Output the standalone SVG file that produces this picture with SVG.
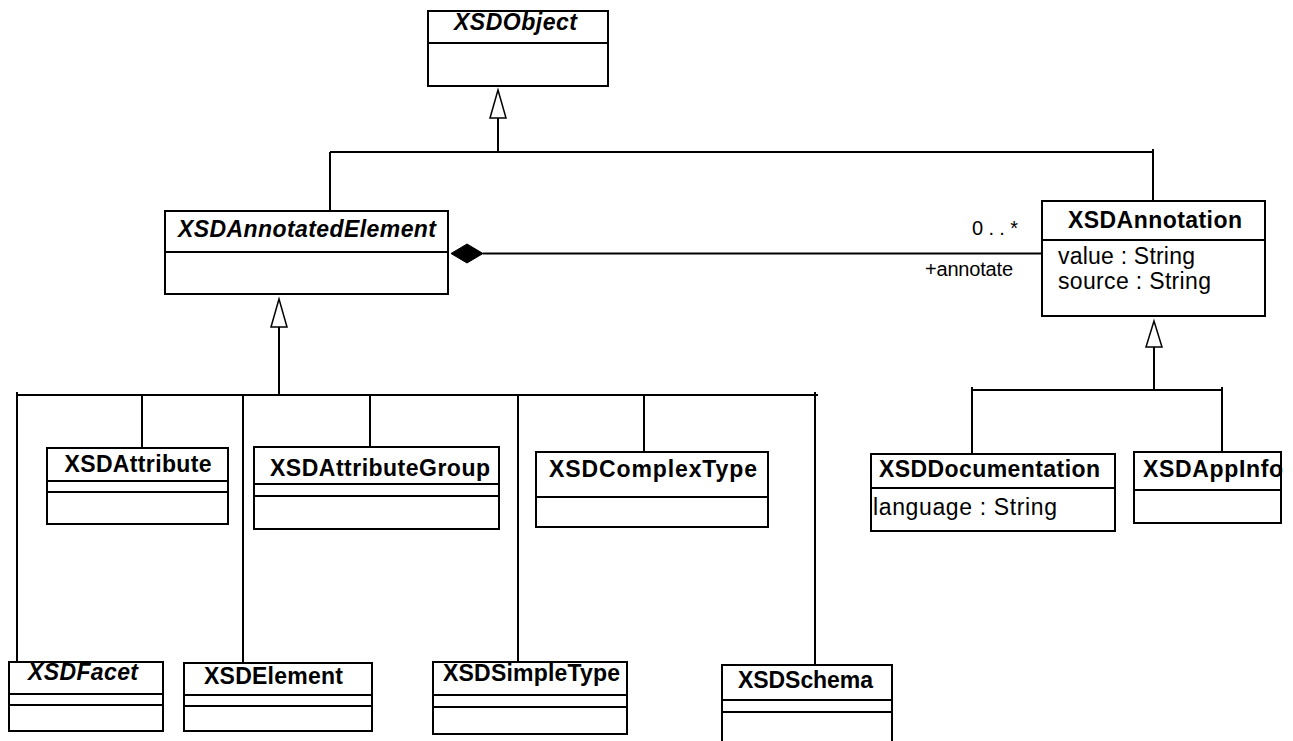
<svg xmlns="http://www.w3.org/2000/svg" width="1293" height="741" viewBox="0 0 1293 741">
<style>
.box{fill:#fff;stroke:#000;stroke-width:2}
.ln{fill:none;stroke:#000;stroke-width:2}
.t{font-family:"Liberation Sans",Arial,sans-serif;font-size:23px;font-weight:bold;fill:#000}
.ti{font-family:"Liberation Sans",Arial,sans-serif;font-size:23px;font-weight:bold;font-style:italic;fill:#000}
.a{font-family:"Liberation Sans",Arial,sans-serif;font-size:23px;fill:#000}
.s{font-family:"Liberation Sans",Arial,sans-serif;font-size:20px;fill:#000}
.tri{fill:#fff;stroke:#000;stroke-width:1.5}
</style>
<rect width="1293" height="741" fill="#fff"/>
<g id="connectors">
  <polygon class="tri" points="498,90 490,118 506,118"/>
  <path class="ln" d="M498,118 V152 M330,152 H1153 M330,152 V211 M1153,149 V201"/>
  <path class="ln" d="M483,253.5 H1042"/>
  <polygon points="451,253.5 467,244 483,253.5 467,263" fill="#000" stroke="#000" stroke-width="1"/>
  <text class="s" x="972" y="235" textLength="46" lengthAdjust="spacing">0 . . *</text>
  <text class="s" x="925" y="276" textLength="88" lengthAdjust="spacing">+annotate</text>
  <polygon class="tri" points="279,299 271,327 287,327"/>
  <path class="ln" d="M279,327 V395 M17,395 H818 M17,392 V662 M142,395 V448 M243,395 V663 M370,395 V447 M518,395 V662 M644,395 V452 M815,392 V665"/>
  <polygon class="tri" points="1154,321 1146,347 1162,347"/>
  <path class="ln" d="M1154,347 V390 M972,390 H1222 M972,387 V454 M1222,387 V452"/>
</g>
<g id="XSDObject">
  <rect class="box" x="428" y="11" width="180" height="75"/>
  <line class="ln" x1="428" y1="43" x2="608" y2="43"/>
  <text class="ti" x="515.5" y="30" text-anchor="middle" textLength="123" lengthAdjust="spacing">XSDObject</text>
</g>
<g id="XSDAnnotatedElement">
  <rect class="box" x="165" y="211" width="283" height="83"/>
  <line class="ln" x1="165" y1="252" x2="448" y2="252"/>
  <text class="ti" x="307" y="237" text-anchor="middle" textLength="258" lengthAdjust="spacing">XSDAnnotatedElement</text>
</g>
<g id="XSDAnnotation">
  <rect class="box" x="1042" y="201" width="223" height="115"/>
  <line class="ln" x1="1042" y1="240" x2="1265" y2="240"/>
  <text class="t" x="1155" y="228" text-anchor="middle" textLength="174" lengthAdjust="spacing">XSDAnnotation</text>
  <text class="a" x="1058" y="264" textLength="137" lengthAdjust="spacing">value : String</text>
  <text class="a" x="1058" y="289" textLength="153" lengthAdjust="spacing">source : String</text>
</g>
<g id="XSDAttribute">
  <rect class="box" x="47" y="448" width="181" height="76"/>
  <line class="ln" x1="47" y1="481" x2="228" y2="481"/>
  <line class="ln" x1="47" y1="492" x2="228" y2="492"/>
  <text class="t" x="138" y="472" text-anchor="middle" textLength="147" lengthAdjust="spacing">XSDAttribute</text>
</g>
<g id="XSDAttributeGroup">
  <rect class="box" x="254" y="447" width="245" height="82"/>
  <line class="ln" x1="254" y1="484" x2="499" y2="484"/>
  <line class="ln" x1="254" y1="496" x2="499" y2="496"/>
  <text class="t" x="380" y="476" text-anchor="middle" textLength="220" lengthAdjust="spacing">XSDAttributeGroup</text>
</g>
<g id="XSDComplexType">
  <rect class="box" x="536" y="452" width="232" height="75"/>
  <line class="ln" x1="536" y1="497" x2="768" y2="497"/>
  <text class="t" x="653" y="477" text-anchor="middle" textLength="208" lengthAdjust="spacing">XSDComplexType</text>
</g>
<g id="XSDDocumentation">
  <rect class="box" x="871" y="454" width="244" height="77"/>
  <line class="ln" x1="871" y1="488" x2="1115" y2="488"/>
  <text class="t" x="879" y="477" textLength="221" lengthAdjust="spacing">XSDDocumentation</text>
  <text class="a" x="873" y="515" textLength="184" lengthAdjust="spacing">language : String</text>
</g>
<g id="XSDAppInfo">
  <rect class="box" x="1134" y="452" width="147" height="71"/>
  <line class="ln" x1="1134" y1="490" x2="1281" y2="490"/>
  <text class="t" x="1143" y="477" textLength="140" lengthAdjust="spacing">XSDAppInfo</text>
</g>
<g id="XSDFacet">
  <rect class="box" x="9" y="662" width="154" height="69"/>
  <line class="ln" x1="9" y1="694" x2="163" y2="694"/>
  <line class="ln" x1="9" y1="705" x2="163" y2="705"/>
  <text class="ti" x="83" y="680" text-anchor="middle" textLength="110" lengthAdjust="spacing">XSDFacet</text>
</g>
<g id="XSDElement">
  <rect class="box" x="184" y="663" width="188" height="68"/>
  <line class="ln" x1="184" y1="695" x2="372" y2="695"/>
  <line class="ln" x1="184" y1="706" x2="372" y2="706"/>
  <text class="t" x="273.5" y="684" text-anchor="middle" textLength="139" lengthAdjust="spacing">XSDElement</text>
</g>
<g id="XSDSimpleType">
  <rect class="box" x="433" y="662" width="194" height="72"/>
  <line class="ln" x1="433" y1="695" x2="627" y2="695"/>
  <line class="ln" x1="433" y1="707" x2="627" y2="707"/>
  <text class="t" x="531.5" y="681" text-anchor="middle" textLength="177" lengthAdjust="spacing">XSDSimpleType</text>
</g>
<g id="XSDSchema">
  <rect class="box" x="722" y="665" width="170" height="90"/>
  <line class="ln" x1="722" y1="700" x2="892" y2="700"/>
  <line class="ln" x1="722" y1="712" x2="892" y2="712"/>
  <text class="t" x="805.5" y="688" text-anchor="middle" textLength="135" lengthAdjust="spacing">XSDSchema</text>
</g>
</svg>
